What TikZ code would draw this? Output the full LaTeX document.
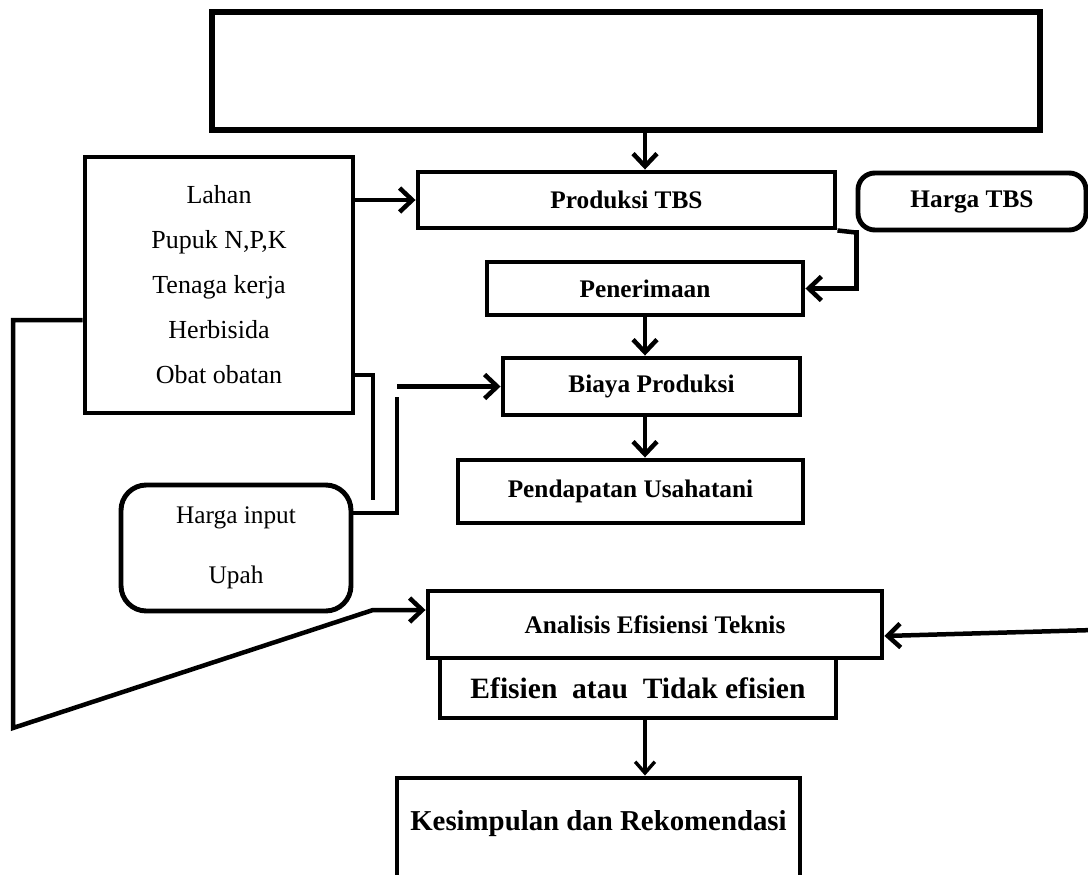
\documentclass[tikz,border=0pt]{standalone}
\usepackage{fontspec}
\setmainfont{Liberation Serif}
\usetikzlibrary{arrows.meta,calc}
\newdimen\unitpx \unitpx=0.025cm

\tikzset{
  box/.style={draw, line width=3.5pt, inner sep=0pt, align=center},
  rbox/.style={box, rounded corners=12pt},
  boxlbl/.style={font=\fontsize{18}{21}\selectfont\bfseries},
  conn/.style={line width=3.2pt},
  arr/.style={conn, -{Straight Barb[length=9pt,width=17pt]}},
  thinarr/.style={line width=2.4pt, -{Straight Barb[length=8pt,width=14pt]}},
}

\begin{document}
\begin{tikzpicture}[x=0.025cm,y=-0.025cm]
                \useasboundingbox (0,0) rectangle (1088,875);
                \clip (0,0) rectangle (1088,875);

                % Main boxes of the flow
                \node [box, line width=4pt, minimum width=828\unitpx, minimum height=118\unitpx] (top) at (626,71) {};
                \node [box, boxlbl, minimum width=417\unitpx, minimum height=56\unitpx] (prod) at (626.5,200) {Produksi TBS};
                \node [rbox, boxlbl, minimum width=228\unitpx, minimum height=57\unitpx] (harga) at (972,201.5) {Harga TBS};
                \node [box, boxlbl, minimum width=316\unitpx, minimum height=53\unitpx] (pen) at (645,288.5) {Penerimaan};
                \node [box, boxlbl, minimum width=297\unitpx, minimum height=57\unitpx] (biaya) at (651.5,386.5) {Biaya Produksi};
                \node [box, boxlbl, minimum width=345\unitpx, minimum height=63\unitpx] (pend) at (630.5,491.5) {Pendapatan Usahatani};

                % Input boxes
                \node [box, minimum width=268\unitpx, minimum height=256\unitpx, font=\fontsize{18.5}{32}\selectfont] (input) at (219,285)
                      {Lahan\\Pupuk N,P,K\\Tenaga kerja\\Herbisida\\Obat obatan};
                \node [rbox, rounded corners=18pt, minimum width=230\unitpx, minimum height=126\unitpx, font=\fontsize{18}{42.5}\selectfont] (hinput) at (236,548)
                      {Harga input\\Upah};

                % Analysis boxes
                \node [box, boxlbl, minimum width=454\unitpx, minimum height=67\unitpx] (anal) at (655,624.5) {Analisis Efisiensi Teknis};
                \node [box, font=\fontsize{21}{24}\selectfont\bfseries, minimum width=396\unitpx, minimum height=60\unitpx] (efis) at (638,688)
                      {Efisien\hspace{0.5em}atau\hspace{0.5em}Tidak efisien};
                \node [box, font=\fontsize{20.5}{24}\selectfont\bfseries, minimum width=403\unitpx, minimum height=104\unitpx] (kes) at (598.5,830)
                      {\raisebox{14pt}{Kesimpulan dan Rekomendasi}};

                % Connectors down the middle
                \draw [arr] (top.south -| pen) -- (prod.north -| pen);
                \draw [arr] (input.east |- prod) -- (prod.west);
                \coordinate (hj) at ($(prod.south east)+(19,0)$);
                \draw [conn] (prod.south east) -- (harga.south west);
                \draw [arr] (hj) |- (pen.east);
                \draw [arr] (pen.south) -- (pen.south |- biaya.north);
                \draw [arr] (biaya.south -| pen) -- (pend.north -| pen);

                % Input costs to Biaya Produksi
                \coordinate (ob) at (373,500);
                \draw [conn] (input.east |- 0,375) -| (ob);
                \coordinate (hv) at (397,397);
                \draw [conn] (hinput.east |- 0,513) -| (hv);
                \draw [arr] (hv |- biaya.west) -- (biaya.west);

                % Inputs to the efficiency analysis
                \coordinate (lk) at (13,728);
                \draw [arr] (input.west |- 0,320) -| (lk) -- (373,610) -- (anal.west |- 0,610);
                \coordinate (rin) at (1094,630);
                \draw [arr] (rin) -- (anal.east |- 0,636);

                \draw [thinarr] (efis.south -| pen) -- (kes.north -| pen);
\end{tikzpicture}
\end{document}
